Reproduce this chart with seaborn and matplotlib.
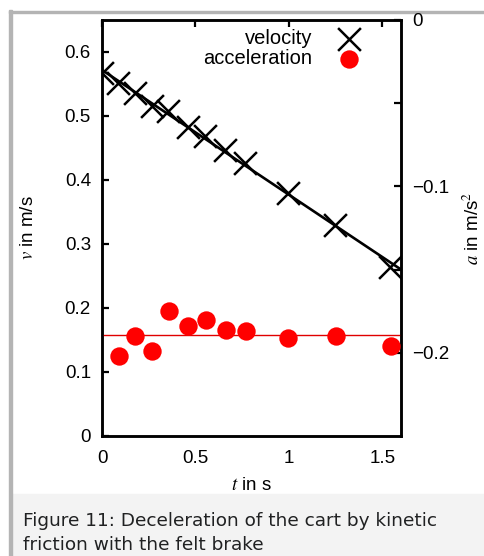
import numpy as np
import matplotlib
matplotlib.use("Agg")
import matplotlib.pyplot as plt
import seaborn as sns
from matplotlib.patches import Rectangle
from matplotlib.ticker import FuncFormatter, FixedLocator

# measured data
t_vel = [0.0, 0.086, 0.177, 0.268, 0.354, 0.461, 0.552, 0.659, 0.766, 0.997, 1.248, 1.543]
velocity = [0.567, 0.552, 0.536, 0.516, 0.508, 0.483, 0.469, 0.447, 0.426, 0.379, 0.330, 0.264]
t_acc = [0.091, 0.177, 0.268, 0.359, 0.461, 0.557, 0.664, 0.771, 0.997, 1.253, 1.548]
accel = [-0.202, -0.190, -0.199, -0.175, -0.184, -0.180, -0.186, -0.187, -0.191, -0.190, -0.196]

x_ticks = [0, 0.5, 1, 1.5]
v_ticks = [0, 0.1, 0.2, 0.3, 0.4, 0.5, 0.6]
a_ticks = [0, -0.1, -0.2]
a_minor = [-0.05, -0.15]

caption = "Figure 11: Deceleration of the cart by kinetic\nfriction with the felt brake"

sns.set_style("white")
plt.rcParams["font.family"] = ["Liberation Sans", "DejaVu Sans"]
plt.rcParams["mathtext.fontset"] = "stix"
for k in ("text.color", "axes.labelcolor", "xtick.color", "ytick.color"):
    plt.rcParams[k] = "black"

W, H = 484, 556
fig = plt.figure(figsize=(W / 100, H / 100), dpi=100)

# page decoration: gray frame and caption box
fig.patches.append(Rectangle((12 / W, 0), 1, 62 / H, transform=fig.transFigure,
                             color="#f3f3f3", zorder=-2))
fig.patches.append(Rectangle((9 / W, 0), 3 / W, 1 - 10 / H, transform=fig.transFigure,
                             color="#b4b4b4", zorder=-1))
fig.patches.append(Rectangle((9 / W, 1 - 13 / H), 1, 2 / H, transform=fig.transFigure,
                             color="#b4b4b4", zorder=-1))
fig.text(23 / W, 1 - 533 / H, caption, va="center", ha="left", fontsize=13.3,
         family="DejaVu Sans", color="#202122", linespacing=1.38)

ax = fig.add_axes([102 / W, 1 - 436 / H, (401 - 102) / W, (436 - 20) / H])
ax2 = ax.twinx()

# velocity with linear fit
slope, icept = np.polyfit(t_vel, velocity, 1)
t_fit = np.array([0, 1.6])
sns.lineplot(x=t_fit, y=icept + slope * t_fit, ax=ax, color="black", lw=1.9)
sns.scatterplot(x=t_vel, y=velocity, ax=ax, marker="x", s=270, color="black",
                linewidth=1.8, label="velocity", legend=False, zorder=3)

# acceleration with mean
ax2.axhline(np.mean(accel), color="#e00000", lw=1.0)
sns.scatterplot(x=t_acc, y=accel, ax=ax2, marker="o", s=175, color="#ff0000",
                linewidth=0, label="acceleration", legend=False, zorder=3)

ax.set_xlim(0, 1.6)
ax.set_ylim(0, 0.65)
ax2.set_ylim(-0.25, 0)

fmt = FuncFormatter(lambda v, p: ("%g" % v).replace("-", "\u2212"))
ax.xaxis.set_major_locator(FixedLocator(x_ticks))
ax.yaxis.set_major_locator(FixedLocator(v_ticks))
ax2.yaxis.set_major_locator(FixedLocator(a_ticks))
ax2.yaxis.set_minor_locator(FixedLocator(a_minor))
for a in (ax.xaxis, ax.yaxis, ax2.yaxis):
    a.set_major_formatter(fmt)

ax.tick_params(axis="x", direction="in", top=True, length=5, width=1.6, pad=10,
               labelsize=13.5)
ax.tick_params(axis="y", direction="in", left=True, right=False, length=5, width=1.6,
               pad=8, labelsize=13.5)
ax2.tick_params(axis="y", which="both", direction="in", right=True, length=5, width=1.6,
                pad=8, labelsize=13.5)

for axis in (ax, ax2):
    for s in axis.spines.values():
        s.set_linewidth(1.8)
        s.set_color("black")

ax.set_xlabel("$t$ in s", fontsize=13.5, labelpad=7.5)
ax.set_ylabel("$v$ in m/s", fontsize=13.5, labelpad=20)
ax2.set_ylabel("")
fig.text(483 / W, 1 - 228 / H, "$a$ in m/s$^2$", rotation=90, ha="right", va="center",
         fontsize=13.5)

handles = [ax.collections[-1], ax2.collections[-1]]
ax2.legend(handles, ["velocity", "acceleration"], loc="upper right",
           bbox_to_anchor=(0.94, 1.012), markerfirst=False, frameon=False,
           fontsize=14.5, handletextpad=0.8, labelspacing=0.05, borderaxespad=0.3)

fig.savefig("out.png", dpi=100)
